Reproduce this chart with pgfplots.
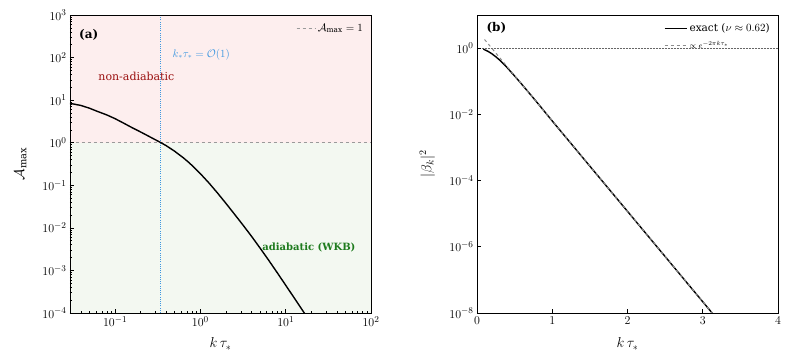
\documentclass[border=0pt]{standalone}
\usepackage{fontspec}
\setmainfont{DejaVu Serif}
\usepackage{pgfplots}
\pgfplotsset{compat=1.18}
\definecolor{bgpink}{HTML}{FDEEEE}
\definecolor{bggreen}{HTML}{F3F8F1}
\definecolor{nadred}{HTML}{9B1010}
\definecolor{adgreen}{HTML}{1E7B1E}
\definecolor{kblue}{HTML}{3D97E0}
\definecolor{refgrey}{HTML}{9A9A9A}
\pgfplotsset{
  panel/.style={
    scale only axis, width=301pt, height=298pt,
    anchor=south west, axis on top,
    tick align=inside,
    xtick pos=bottom, ytick pos=left,
    axis line style={black, line width=0.8pt},
    major tick length=4pt, minor tick length=2pt,
    every tick/.style={black, line width=0.6pt},
    every tick label/.style={font=\fontsize{13}{15}\selectfont},
    every axis label/.style={font=\fontsize{14}{16}\selectfont},
    xlabel={$k\,\tau_*$},
    xlabel style={at={(axis description cs:0.5,0)}, anchor=center, yshift=-31pt},
    ylabel style={at={(axis description cs:-0.165,0.5)}, anchor=center},
    legend style={draw=none, fill=none, font=\fontsize{10.5}{12}\selectfont,
      at={(0.99,0.985)}, anchor=north east, row sep=4pt},
    legend cell align=left,
  },
}
\begin{document}
\begin{tikzpicture}
\path (0,0) rectangle (793pt,363pt);
% (a) adiabaticity parameter
\begin{axis}[panel, at={(70pt,50pt)},
  xmode=log, ymode=log,
  xmin=0.0296, xmax=100, ymin=1e-4, ymax=1e3,
  ytick={1e-4,1e-3,1e-2,1e-1,1,1e1,1e2,1e3},
  ylabel={$\mathcal{A}_{\max}$},
  legend image post style={xscale=1.1},
]
\fill[bgpink] (axis cs:0.0296,1) rectangle (axis cs:100,1000);
\fill[bggreen] (axis cs:0.0296,1e-4) rectangle (axis cs:100,1);
\addplot[refgrey, dashed, line width=1pt] coordinates {(0.0296,1) (100,1)};
\addlegendentry{$\mathcal{A}_{\max}=1$}
\addplot[kblue, dash pattern=on 1pt off 1.2pt, line width=1pt, forget plot]
  coordinates {(0.345,1e-4) (0.345,1e3)};
\addplot[black, line width=1.4pt, forget plot] coordinates {
(0.0296,8.41) (0.0398,7.50) (0.0501,6.46) (0.0631,5.37) (0.0794,4.52)
(0.1,3.67) (0.126,2.88) (0.158,2.26) (0.2,1.78) (0.251,1.40)
(0.345,1.0) (0.398,0.851) (0.501,0.627) (0.631,0.442) (0.708,0.364)
(0.794,0.295) (1.0,0.187) (1.259,0.1135) (1.585,0.0661) (1.995,0.0375)
(2.512,0.0209) (3.162,0.01159) (3.981,6.31e-3) (5.012,3.34e-3)
(6.31,1.74e-3) (7.943,8.89e-4) (10,4.49e-4) (12.59,2.26e-4)
(15.85,1.13e-4) (17.78,8.0e-5)
};
\node[anchor=west, font=\fontsize{12}{14}\selectfont\bfseries]
  at (axis cs:0.0345,340) {(a)};
\node[anchor=west, text=nadred, font=\fontsize{11}{13}\selectfont]
  at (axis cs:0.058,37) {non-adiabatic};
\node[anchor=west, text=kblue, font=\fontsize{10.5}{12}\selectfont]
  at (axis cs:0.43,118) {$k_*\tau_*=\mathcal{O}(1)$};
\node[anchor=west, text=adgreen, font=\fontsize{10}{12}\selectfont\bfseries]
  at (axis cs:4.85,3.5e-3) {adiabatic (WKB)};
\end{axis}
% (b) Bogoliubov coefficient
\begin{axis}[panel, at={(477pt,50pt)},
  ymode=log,
  xmin=0, xmax=4, ymin=1e-8, ymax=10,
  xtick={0,1,2,3,4},
  ytick={1e-8,1e-6,1e-4,1e-2,1},
  minor ytick={},
  ylabel={$|\beta_k|^2$},
  legend image post style={xscale=1.3},
]
\addplot[black!60, densely dotted, line width=0.5pt, forget plot]
  coordinates {(0,1) (4,1)};
\addplot[black, line width=1.4pt] coordinates {
(0.084,0.933) (0.15,0.789) (0.2,0.668) (0.25,0.548) (0.3,0.437)
(0.35,0.339) (0.4,0.258) (0.5,0.144) (0.6,0.0785) (0.7,0.0422)
(0.8,0.0226) (1.0,6.3e-3) (1.5,2.72e-4) (2.0,1.175e-5) (2.5,5.07e-7)
(3.0,2.19e-8) (3.2,6.24e-9)
};
\addlegendentry{exact ($\nu\approx0.62$)}
\addplot[black!45, dashed, line width=1pt] coordinates {
(0.1,1.82) (3.2,6.3e-9)
};
\addlegendentry{\fontsize{8.5}{10}\selectfont$\propto e^{-2\pi k\tau_*}$}
\node[anchor=west, font=\fontsize{12}{14}\selectfont\bfseries]
  at (axis cs:0.08,4.0) {(b)};
\end{axis}
\end{tikzpicture}
\end{document}
